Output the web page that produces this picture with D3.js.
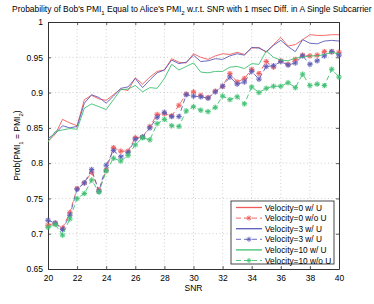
<html>
<head>
<meta charset="utf-8">
<script src="https://cdn.jsdelivr.net/npm/d3@7"></script>
<style>
  body { margin: 0; background: #fff; overflow: hidden; }
  svg text { font-family: "Liberation Sans", Arial, sans-serif; fill: #000; }
</style>
</head>
<body>
<svg id="chart" width="374" height="304"></svg>
<script>
// SNR values 20..40 step 0.5
var snr = [20,20.5,21,21.5,22,22.5,23,23.5,24,24.5,25,25.5,26,26.5,27,27.5,28,28.5,29,29.5,
           30,30.5,31,31.5,32,32.5,33,33.5,34,34.5,35,35.5,36,36.5,37,37.5,38,38.5,39,39.5,40];

var vel0WithU = [0.831,0.841,0.862,0.857,0.853,0.890,0.896,0.891,0.889,0.897,0.905,0.903,0.921,0.912,0.922,0.930,0.932,0.948,0.943,0.942,
                 0.955,0.950,0.947,0.952,0.955,0.954,0.957,0.954,0.963,0.964,0.957,0.968,0.978,0.966,0.968,0.975,0.982,0.981,0.981,0.982,0.982];
var vel0NoU   = [0.712,0.715,0.708,0.730,0.764,0.772,0.787,0.762,0.790,0.822,0.817,0.817,0.836,0.837,0.852,0.869,0.870,0.867,0.882,0.898,
                 0.901,0.896,0.893,0.902,0.909,0.927,0.915,0.920,0.933,0.927,0.944,0.936,0.945,0.940,0.947,0.953,0.952,0.953,0.958,0.958,0.957];
var vel3WithU = [0.835,0.842,0.853,0.850,0.852,0.885,0.897,0.893,0.885,0.895,0.906,0.908,0.920,0.907,0.918,0.928,0.932,0.946,0.941,0.943,
                 0.953,0.944,0.945,0.948,0.947,0.952,0.955,0.953,0.964,0.963,0.958,0.967,0.974,0.965,0.958,0.975,0.970,0.969,0.973,0.974,0.973];
var vel3NoU   = [0.719,0.715,0.706,0.726,0.763,0.772,0.791,0.760,0.797,0.818,0.809,0.815,0.834,0.837,0.850,0.865,0.872,0.866,0.866,0.897,
                 0.895,0.894,0.892,0.901,0.909,0.922,0.912,0.915,0.930,0.919,0.937,0.938,0.944,0.939,0.942,0.952,0.940,0.945,0.952,0.958,0.953];
var vel10WithU = [0.830,0.845,0.847,0.849,0.848,0.878,0.884,0.880,0.876,0.890,0.904,0.905,0.910,0.901,0.907,0.906,0.920,0.940,0.932,0.937,
                  0.942,0.929,0.928,0.930,0.930,0.936,0.937,0.934,0.941,0.940,0.959,0.950,0.946,0.945,0.949,0.950,0.952,0.952,0.954,0.957,0.955];
var vel10NoU   = [0.709,0.713,0.698,0.721,0.750,0.757,0.776,0.759,0.789,0.807,0.803,0.811,0.826,0.836,0.833,0.856,0.862,0.853,0.852,0.874,
                  0.880,0.875,0.873,0.879,0.895,0.890,0.894,0.884,0.908,0.900,0.906,0.909,0.909,0.914,0.907,0.926,0.910,0.912,0.910,0.933,0.922];

var xTicks = [20,22,24,26,28,30,32,34,36,38,40];
var yTicks = [0.65,0.7,0.75,0.8,0.85,0.9,0.95,1];

var series = [
  {name: "Velocity=0 w/ U",   values: vel0WithU,  color: "#f05a5a", dashed: false},
  {name: "Velocity=0 w/o U",  values: vel0NoU,    color: "#f05a5a", dashed: true},
  {name: "Velocity=3 w/ U",   values: vel3WithU,  color: "#5c5cb8", dashed: false},
  {name: "Velocity=3 w/ U",   values: vel3NoU,    color: "#5c5cb8", dashed: true},
  {name: "Velocity=10 w/ U",  values: vel10WithU, color: "#3cc070", dashed: false},
  {name: "Velocity=10 w/o U", values: vel10NoU,   color: "#3cc070", dashed: true}
];

(function() {
var pL = 48, pR = 339, pT = 22, pB = 269;

var svg = d3.select("#chart");

var x = d3.scaleLinear().domain([20, 40]).range([pL, pR]);
var y = d3.scaleLinear().domain([0.65, 1]).range([pB, pT]);

// grid
var grid = svg.append("g");
grid.selectAll("line.gx").data(xTicks.slice(1, -1)).enter().append("line")
    .attr("x1", d => x(d)).attr("x2", d => x(d))
    .attr("y1", pT).attr("y2", pB)
    .attr("stroke", "#b0b0b0").attr("stroke-width", 0.6).attr("stroke-dasharray", "1,2.5");
grid.selectAll("line.gy").data(yTicks.slice(1, -1)).enter().append("line")
    .attr("x1", pL).attr("x2", pR)
    .attr("y1", d => y(d)).attr("y2", d => y(d))
    .attr("stroke", "#b0b0b0").attr("stroke-width", 0.6).attr("stroke-dasharray", "1,2.5");

// axes (ticks pointing inward)
var fmtY = d => d === 1 ? "1" : d3.format(".2~f")(d);
var xAxis = svg.append("g").attr("transform", "translate(0," + pB + ")")
    .call(d3.axisBottom(x).tickValues(xTicks).tickSizeInner(-3).tickSizeOuter(0).tickPadding(6));
var yAxis = svg.append("g").attr("transform", "translate(" + pL + ",0)")
    .call(d3.axisLeft(y).tickValues(yTicks).tickFormat(fmtY).tickSizeInner(-3).tickSizeOuter(0).tickPadding(5));
var xTop = svg.append("g").attr("transform", "translate(0," + pT + ")")
    .call(d3.axisTop(x).tickValues(xTicks).tickFormat("").tickSizeInner(-3).tickSizeOuter(0));
var yRight = svg.append("g").attr("transform", "translate(" + pR + ",0)")
    .call(d3.axisRight(y).tickValues(yTicks).tickFormat("").tickSizeInner(-3).tickSizeOuter(0));

[xAxis, yAxis, xTop, yRight].forEach(function(g) {
  g.select(".domain").attr("stroke", "#333").attr("stroke-width", 1);
  g.selectAll(".tick line").attr("stroke", "#333").attr("stroke-width", 0.8);
  g.selectAll("text").style("font-size", "8.5px").attr("fill", "#000").attr("font-family", null);
});

// lines
var line = d3.line().x((d, i) => x(snr[i])).y(d => y(d));

function star(g, cx, cy, color, r) {
  var s = g.append("g").attr("transform", "translate(" + cx + "," + cy + ")")
      .attr("stroke", color).attr("stroke-width", 0.9);
  [0, 45, 90, 135].forEach(function(a) {
    var rad = a * Math.PI / 180;
    s.append("line")
      .attr("x1", -r * Math.cos(rad)).attr("y1", -r * Math.sin(rad))
      .attr("x2", r * Math.cos(rad)).attr("y2", r * Math.sin(rad));
  });
}

var plot = svg.append("g");
series.forEach(function(s) {
  plot.append("path")
    .attr("d", line(s.values))
    .attr("fill", "none")
    .attr("stroke", s.color)
    .attr("stroke-width", 0.9)
    .attr("stroke-dasharray", s.dashed ? "5,3" : null);
  if (s.dashed) {
    s.values.forEach(function(v, i) {
      plot.append("circle").attr("cx", x(snr[i])).attr("cy", y(v)).attr("r", 2.8)
        .attr("fill", s.color).attr("fill-opacity", 0.25).attr("stroke", "none");
      star(plot, x(snr[i]), y(v), s.color, 2.6);
    });
  }
});

// legend
var lg = svg.append("g");
var lgX = 231, lgY = 201, lgW = 103, lgH = 63, rowH = 10.6;
lg.append("rect").attr("x", lgX).attr("y", lgY).attr("width", lgW).attr("height", lgH)
  .attr("fill", "#fff").attr("stroke", "#333").attr("stroke-width", 0.9);
series.forEach(function(s, i) {
  var cy = lgY + 6.5 + i * rowH;
  lg.append("line").attr("x1", lgX + 5).attr("x2", lgX + 31).attr("y1", cy).attr("y2", cy)
    .attr("stroke", s.color).attr("stroke-width", s.dashed ? 0.9 : 1.3)
    .attr("stroke-dasharray", s.dashed ? "5,3" : null);
  if (s.dashed) star(lg, lgX + 18, cy, s.color, 2.6);
  lg.append("text").attr("x", lgX + 34).attr("y", cy + 3).style("font-size", "8.3px").text(s.name);
});

// title
var title = svg.append("text").attr("x", 12).attr("y", 12).style("font-size", "8.45px");
title.append("tspan").text("Probability of Bob's PMI");
title.append("tspan").attr("dy", 2.5).style("font-size", "6px").text("1");
title.append("tspan").attr("dy", -2.5).text(" Equal to Alice's PMI");
title.append("tspan").attr("dy", 2.5).style("font-size", "6px").text("2");
title.append("tspan").attr("dy", -2.5).text(" w.r.t. SNR with 1 msec Diff. in A Single Subcarrier");

// axis labels
svg.append("text").attr("x", (pL + pR) / 2).attr("y", 291)
  .attr("text-anchor", "middle").style("font-size", "8.5px").text("SNR");

var yl = svg.append("text").attr("transform", "translate(20," + ((pT + pB) / 2) + ") rotate(-90)")
  .attr("text-anchor", "middle").style("font-size", "8.5px");
yl.append("tspan").text("Prob(PMI");
yl.append("tspan").attr("dy", 2.5).style("font-size", "6px").text("1");
yl.append("tspan").attr("dy", -2.5).text(" = PMI");
yl.append("tspan").attr("dy", 2.5).style("font-size", "6px").text("2");
yl.append("tspan").attr("dy", -2.5).text(")");
})();
</script>
</body>
</html>
